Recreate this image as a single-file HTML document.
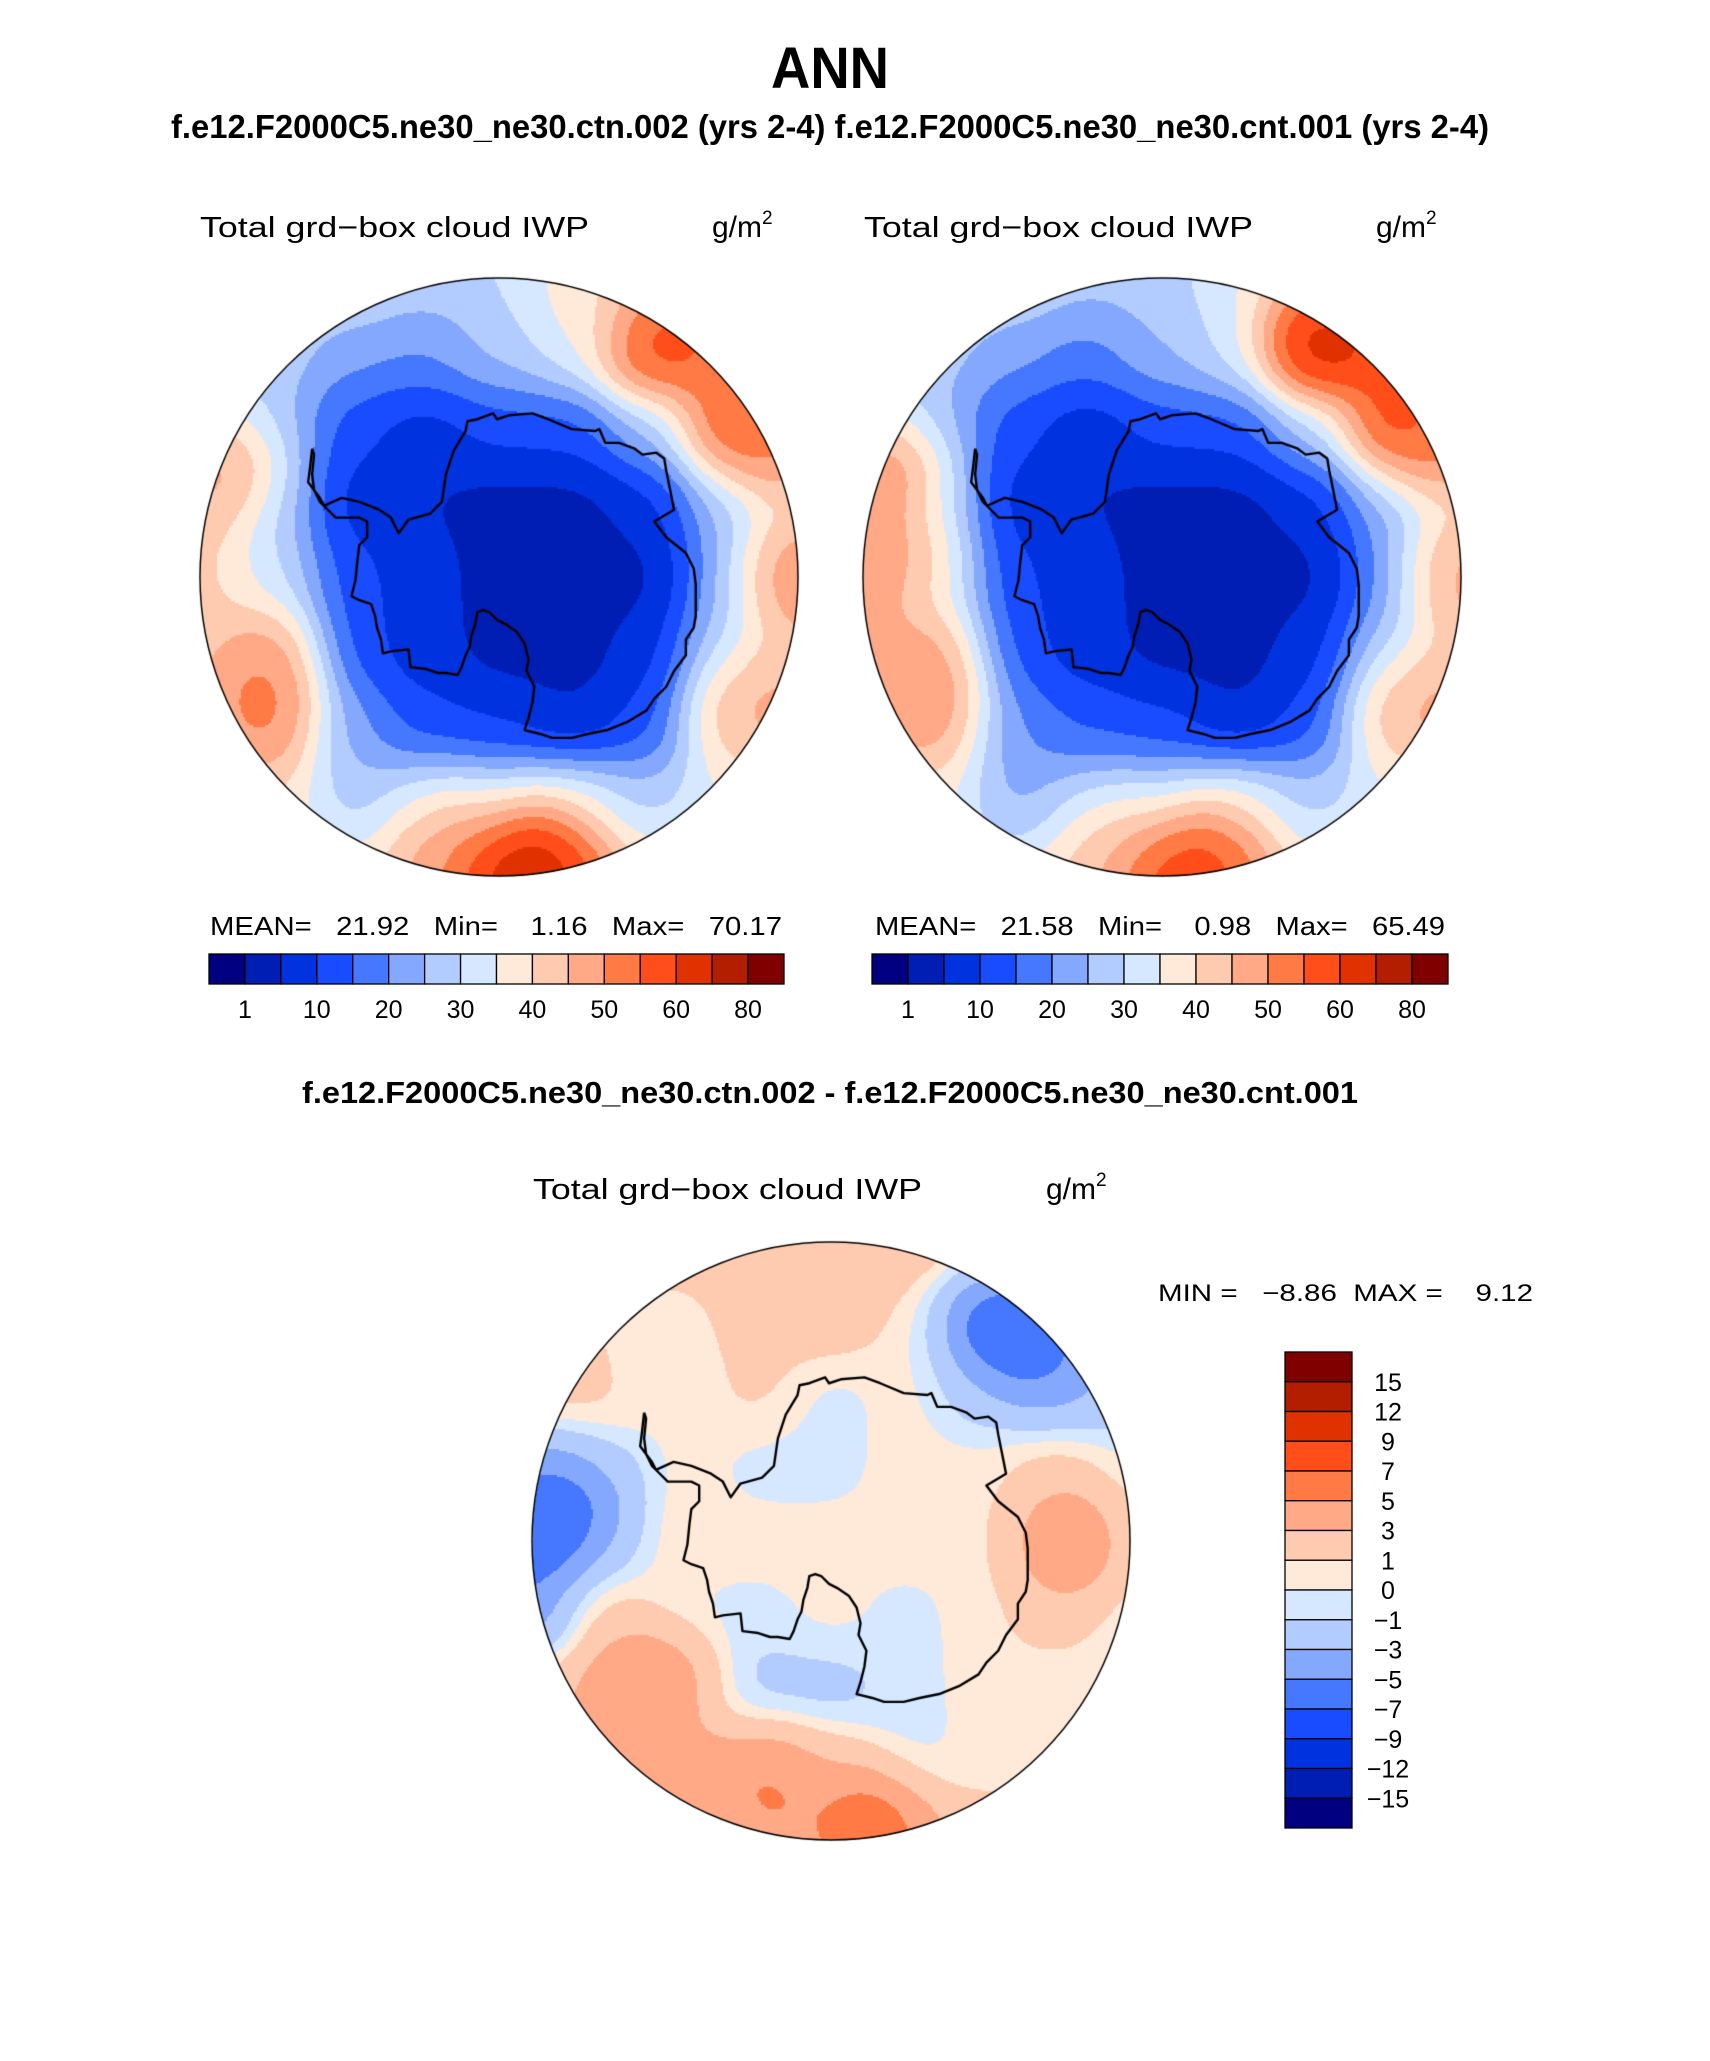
<!DOCTYPE html>
<html><head><meta charset="utf-8">
<style>
html,body{margin:0;padding:0;background:#fff;}
#wrap{position:relative;width:1710px;height:2061px;overflow:hidden;background:#fff;}
canvas{position:absolute;}
svg{position:absolute;left:0;top:0;}
text{font-family:"Liberation Sans",sans-serif;fill:#000;}
</style></head>
<body>
<div id="wrap">
<canvas id="mapA" width="620" height="620" style="left:189px;top:267px"></canvas>
<canvas id="mapB" width="620" height="620" style="left:852px;top:267px"></canvas>
<canvas id="mapD" width="620" height="620" style="left:521px;top:1231px"></canvas>
<svg id="ov" width="1710" height="2061" xmlns="http://www.w3.org/2000/svg">
<text x="830" y="88" font-size="58" font-weight="bold" text-anchor="middle" textLength="118" lengthAdjust="spacingAndGlyphs">ANN</text>
<text x="171" y="138" font-size="33" font-weight="bold" textLength="1318" lengthAdjust="spacingAndGlyphs">f.e12.F2000C5.ne30_ne30.ctn.002 (yrs 2-4) f.e12.F2000C5.ne30_ne30.cnt.001 (yrs 2-4)</text>
<text x="200" y="237" font-size="29" textLength="389" lengthAdjust="spacingAndGlyphs">Total grd−box cloud IWP</text>
<text x="712" y="237" font-size="30">g/m<tspan font-size="19" dy="-13">2</tspan></text>
<text x="864" y="237" font-size="29" textLength="389" lengthAdjust="spacingAndGlyphs">Total grd−box cloud IWP</text>
<text x="1376" y="237" font-size="30">g/m<tspan font-size="19" dy="-13">2</tspan></text>
<text x="210" y="935" font-size="26" textLength="572" lengthAdjust="spacingAndGlyphs" xml:space="preserve">MEAN=   21.92   Min=    1.16   Max=   70.17</text>
<text x="875" y="935" font-size="26" textLength="570" lengthAdjust="spacingAndGlyphs" xml:space="preserve">MEAN=   21.58   Min=    0.98   Max=   65.49</text>
<text x="302" y="1103" font-size="31" font-weight="bold" textLength="1056" lengthAdjust="spacingAndGlyphs">f.e12.F2000C5.ne30_ne30.ctn.002 - f.e12.F2000C5.ne30_ne30.cnt.001</text>
<text x="533" y="1199" font-size="29" textLength="389" lengthAdjust="spacingAndGlyphs">Total grd−box cloud IWP</text>
<text x="1046" y="1199" font-size="30">g/m<tspan font-size="19" dy="-13">2</tspan></text>
<text x="1158" y="1301" font-size="24" textLength="375" lengthAdjust="spacingAndGlyphs" xml:space="preserve">MIN =   −8.86  MAX =    9.12</text>
<g id="cbars"></g>
</svg>
</div>
<script>
// ---------- data ----------
const colors = ["#000080","#001eb3","#0032e0","#1a4cff","#4578ff","#85a8ff","#b3ccff","#d6e8ff","#ffe9d9","#ffcbb0","#ffa986","#ff7a45","#ff4e1a","#e03200","#b31e00","#800000"];
const levelsIWP = [1,5,10,15,20,25,30,35,40,45,50,55,60,70,80];
const tickLabelsIWP = ["1","10","20","30","40","50","60","80"];
const levelsDiff = [-15,-12,-9,-7,-5,-3,-1,0,1,3,5,7,9,12,15];
const tickLabelsDiff = ["−15","−12","−9","−7","−5","−3","−1","0","1","3","5","7","9","12","15"];

// gridded values (rows top->bottom, cols left->right) over the polar disk, 9x9
const gridA = [
 [35,35,32,28,30,37,45,50,50],
 [30,28,22,20,27,32,57,52,45],
 [35,27,12,7,12,12,25,57,45],
 [42,27,7,5,3,3,7,25,38],
 [42,32,12,7,3,3,3,22,48],
 [42,47,12,7,3,3,7,28,42],
 [45,52,22,12,10,5,12,42,45],
 [40,40,27,32,30,37,28,35,35],
 [40,40,38,45,62,58,40,35,35]];
const extraAx = [0.1,-0.16,0.53,0.89,0.95,0.85,-0.78,-0.9,0.3];
const extraAy = [0.91,0.88,-0.79,-0.43,0,0.39,0.36,-0.36,-0.9];
const extraAv = [75,55,62,60,54,52,56,58,38];

const gridB = [
 [34,34,31,27,28,34,44,50,50],
 [29,27,22,18,25,32,63,56,47],
 [33,25,12,6,12,12,27,60,47],
 [46,29,7,5,3,3,7,23,38],
 [48,34,11,7,3,3,3,18,48],
 [47,45,12,7,3,3,7,26,42],
 [43,48,20,14,12,5,12,42,45],
 [37,37,23,28,28,38,28,34,35],
 [37,37,35,41,58,53,38,34,35]];
const extraBx = [0.1,-0.16,0.53,0.89,0.95,0.85,-0.78,-0.9,-0.88];
const extraBy = [0.91,0.88,-0.79,-0.43,0,0.39,0.36,-0.36,-0.08];
const extraBv = [66,50,68,60,48,52,55,62,54];

const gridD = [
 [1,1,2,2,2,3,1,0,0],
 [1,1,0.5,2,2,0.5,-6,-4,-2],
 [2,2,0.5,1.5,-0.5,0.5,-2,-4,-2],
 [-4,-2,0.5,-0.5,-0.5,0.5,0.5,2,0],
 [-6,-1.5,1,0.5,0.5,0.5,0.5,4,0],
 [-5,2,-0.5,-0.5,0.5,-0.5,0.5,2,0],
 [2,4,2,-2,-2,-0.5,0.5,0,0],
 [3,3,4,4,2,-1,0.5,1,0],
 [3,3,3,4,4,4,2,1,0]];
const extraDx = [0.14,-0.19,-0.88,0.84,0.63,-0.58,-0.59,0.0];
const extraDy = [0.91,0.82,-0.08,0.01,-0.68,0.45,-0.56,-0.85];
const extraDv = [10,7,-10,7,-10,8,-0.5,3];

// coastline trace (reference-crop coordinates, center 775,781 radius 760)
const coast = [[300,455],[295,500],[290,540],[320,580],[330,600],[375,580],[420,590],[470,610],[500,630],[520,670],[545,635],[600,620],[630,590],[640,520],[660,460],[690,410],[695,385],[720,380],[760,365],[770,380],[800,370],[860,365],[900,380],[960,405],[1020,410],[1030,405],[1045,440],[1080,440],[1120,455],[1140,470],[1175,465],[1195,480],[1200,510],[1210,560],[1220,610],[1170,640],[1200,680],[1250,720],[1270,760],[1275,800],[1275,880],[1270,910],[1250,940],[1250,980],[1220,1020],[1200,1060],[1170,1090],[1150,1120],[1100,1150],[1050,1170],[1000,1180],[960,1190],[910,1190],[880,1180],[840,1170],[850,1140],[860,1100],[865,1060],[845,1020],[850,990],[840,950],[820,920],[790,900],[770,890],[750,870],[735,865],[720,870],[715,900],[705,930],[700,960],[690,980],[680,1010],[670,1030],[640,1025],[620,1025],[590,1015],[550,1010],[545,965],[500,970],[480,975],[475,940],[465,910],[460,880],[450,850],[420,840],[400,830],[410,790],[415,740],[420,700],[440,680],[440,640],[420,630],[360,630],[340,610],[320,590],[305,560],[300,520],[305,470],[300,455]];

// ---------- rendering ----------
function ctrl(grid, ex, ey, ev){
  const xs=[],ys=[],vs=[];
  for(let i=0;i<grid.length;i++)for(let j=0;j<grid[i].length;j++){
    xs.push(-1+0.25*j); ys.push(-1+0.25*i); vs.push(grid[i][j]);
  }
  for(let k=0;k<ex.length;k++){xs.push(ex[k]);ys.push(ey[k]);vs.push(ev[k]);}
  return {xs,ys,vs};
}
function hexRGB(h){return [parseInt(h.substr(1,2),16),parseInt(h.substr(3,2),16),parseInt(h.substr(5,2),16)];}
const rgb = colors.map(hexRGB);
function levelIndex(v, levels){let k=0;while(k<levels.length && v>=levels[k])k++;return k;}

function drawMap(id, c, levels){
  const cv=document.getElementById(id), ctx=cv.getContext('2d');
  const S=620, cx=310, cy=310, R=299;
  const img=ctx.createImageData(S,S), d=img.data;
  const sig2=2*0.12*0.12, n=c.xs.length;
  const step=2;
  for(let py=0;py<S;py+=step){
    for(let px=0;px<S;px+=step){
      const nx=(px+1-cx)/R, ny=(py+1-cy)/R;
      if(nx*nx+ny*ny>1.01) continue;
      let sw=0,sv=0;
      for(let k=0;k<n;k++){
        const dx=nx-c.xs[k], dy=ny-c.ys[k];
        const w=Math.exp(-(dx*dx+dy*dy)/sig2);
        sw+=w; sv+=w*c.vs[k];
      }
      const v=sv/(sw||1e-9);
      const col=rgb[levelIndex(v,levels)];
      for(let yy=0;yy<step;yy++)for(let xx=0;xx<step;xx++){
        const X=px+xx,Y=py+yy;const ddx=(X-cx)/R,ddy=(Y-cy)/R;
        if(ddx*ddx+ddy*ddy>1) continue;
        const o=(Y*S+X)*4;d[o]=col[0];d[o+1]=col[1];d[o+2]=col[2];d[o+3]=255;
      }
    }
  }
  ctx.putImageData(img,0,0);
  ctx.beginPath();
  coast.forEach((p,i)=>{const x=cx+(p[0]-775)/760*R, y=cy+(p[1]-781)/760*R; i?ctx.lineTo(x,y):ctx.moveTo(x,y);});
  ctx.lineWidth=2.4;ctx.strokeStyle="#000";ctx.lineJoin="round";ctx.stroke();
  ctx.beginPath();ctx.arc(cx,cy,R,0,Math.PI*2);ctx.lineWidth=1.5;ctx.stroke();
}
drawMap('mapA', ctrl(gridA,extraAx,extraAy,extraAv), levelsIWP);
drawMap('mapB', ctrl(gridB,extraBx,extraBy,extraBv), levelsIWP);
drawMap('mapD', ctrl(gridD,extraDx,extraDy,extraDv), levelsDiff);

// colorbars
const NS="http://www.w3.org/2000/svg";
const g=document.getElementById('cbars');
function hbar(x0,x1,y0,y1,name){
  const w=(x1-x0)/colors.length;
  colors.forEach((c,i)=>{
    const r=document.createElementNS(NS,'rect');
    r.setAttribute('x',x0+i*w);r.setAttribute('y',y0);r.setAttribute('width',w);r.setAttribute('height',y1-y0);
    r.setAttribute('fill',c);r.setAttribute('stroke','#000');r.setAttribute('stroke-width','1.3');
    
    
    g.appendChild(r);
  });
  tickLabelsIWP.forEach((t,i)=>{
    const tx=document.createElementNS(NS,'text');
    tx.setAttribute('x',x0+(1+2*i)*w);tx.setAttribute('y',y1+34);tx.setAttribute('font-size','25');tx.setAttribute('text-anchor','middle');
    tx.textContent=t;
    
    
    g.appendChild(tx);
  });
}
hbar(209,784,954,984,'left-colorbar');
hbar(872,1448,954,984,'right-colorbar');
(function(){
  const x0=1285,x1=1352,y0=1352,y1=1828,h=(y1-y0)/colors.length;
  colors.slice().reverse().forEach((c,i)=>{
    const r=document.createElementNS(NS,'rect');
    r.setAttribute('x',x0);r.setAttribute('y',y0+i*h);r.setAttribute('width',x1-x0);r.setAttribute('height',h);
    r.setAttribute('fill',c);r.setAttribute('stroke','#000');r.setAttribute('stroke-width','1.3');
    
    
    g.appendChild(r);
  });
  tickLabelsDiff.slice().reverse().forEach((t,i)=>{
    const tx=document.createElementNS(NS,'text');
    tx.setAttribute('x',1388);tx.setAttribute('y',y0+(i+1)*h+9);tx.setAttribute('font-size','25');tx.setAttribute('text-anchor','middle');
    tx.textContent=t;
    
    
    g.appendChild(tx);
  });
})();
</script>
</body></html>
